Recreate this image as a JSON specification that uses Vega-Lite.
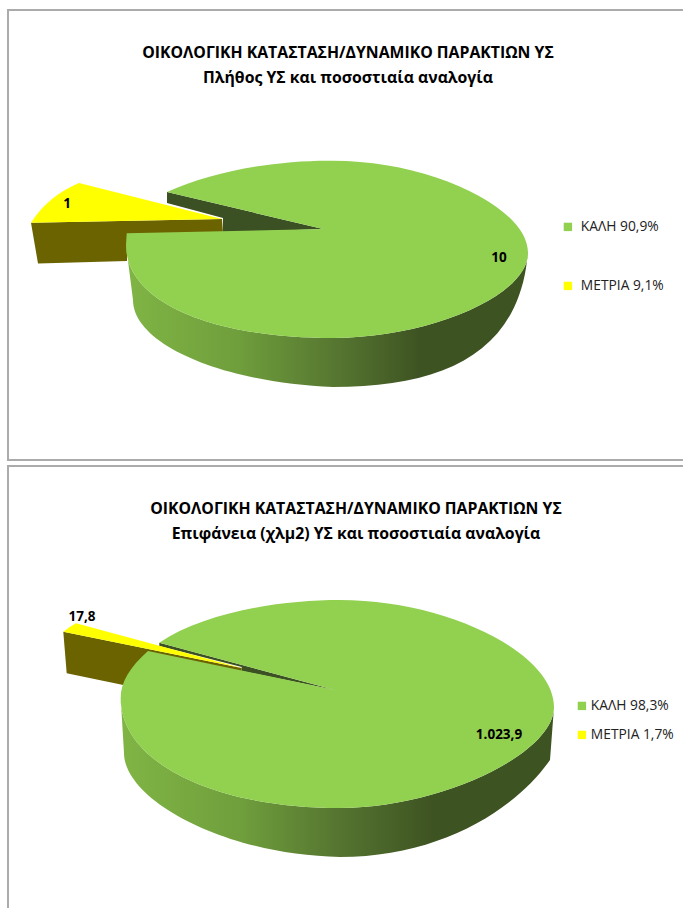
{
"$schema":"https://vega.github.io/schema/vega-lite/v6.json",
"background":"white",
"padding":{"left":7,"top":9,"right":0,"bottom":0},
"spacing":6,
"bounds":"flush",
"config":{"view":{"stroke":"#ABABAB","strokeWidth":2},"style":{"cell":{"stroke":"#ABABAB","strokeWidth":2}},"text":{"font":"Open Sans","fontWeight":"bold","fontSize":13.5,"color":"black"}},
"resolve":{"scale":{"color":"independent","shape":"independent"}},
"datasets":{
"plithos":[{"katastasi":"ΚΑΛΗ","legend":"ΚΑΛΗ 90,9%","value":10,"label":"10"},{"katastasi":"ΜΕΤΡΙΑ","legend":"ΜΕΤΡΙΑ 9,1%","value":1,"label":"1"}],
"epifaneia":[{"katastasi":"ΚΑΛΗ","legend":"ΚΑΛΗ 98,3%","value":1023.9,"label":"1.023,9"},{"katastasi":"ΜΕΤΡΙΑ","legend":"ΜΕΤΡΙΑ 1,7%","value":17.8,"label":"17,8"}]
},
"vconcat":[
{
"width":680,"height":450,
"view":{"stroke":"#ABABAB","strokeWidth":2,"fill":"white"},
"data":{"name":"plithos"},
"title":{"text":["ΟΙΚΟΛΟΓΙΚΗ ΚΑΤΑΣΤΑΣΗ/ΔΥΝΑΜΙΚΟ ΠΑΡΑΚΤΙΩΝ ΥΣ","Πλήθος ΥΣ και  ποσοστιαία αναλογία"],"anchor":"middle","font":"Open Sans","fontSize":15.8,"fontWeight":"bold","color":"black","lineHeight":25,"baseline":"top","offset":0,"dy":77},
"layer":[
{"transform":[{"filter":"datum.katastasi==='ΚΑΛΗ'"}],"mark":{"type":"point","filled":true,"opacity":1,"size":4,"fill":"#3B5023","shape":"M-181,-43L-25,-6L-125,-2.5L-125,-17L-181,-32Z"}},
{"transform":[{"filter":"datum.katastasi==='ΜΕΤΡΙΑ'"}],"mark":{"type":"point","filled":true,"opacity":1,"size":4,"fill":"#6A6300","shape":"M-317,-12.3L-126,-16L-125,-2.5L-221,1L-221,26L-310,28.5Z"}},
{"transform":[{"filter":"datum.katastasi==='ΚΑΛΗ'"}],"mark":{"type":"point","filled":true,"opacity":1,"size":4,"fill":{"gradient":"linear","x1":0,"y1":0,"x2":1,"y2":0,"stops":[{"offset":0,"color":"#80B545"},{"offset":0.28,"color":"#6F9E3C"},{"offset":0.53,"color":"#557530"},{"offset":0.73,"color":"#3E5322"},{"offset":1,"color":"#3E5322"}]},"shape":"M-222,10C-222,66,-139,103,-15,103C82.5,103,180,60.5,180,18L178,33C164,120,92,152,-15,152C-123,148,-215,110,-215,65Z"}},
{"mark":{"type":"point","filled":true,"opacity":1,"size":4},
"encoding":{
"shape":{"field":"katastasi","type":"nominal","legend":null,"scale":{"domain":["ΚΑΛΗ","ΜΕΤΡΙΑ"],"range":["M-25,-6L-221.3,-1.7L-222,10C-222,66,-139,103,-15,103C82.5,103,180,60.5,180,18C180,-28,82,-74.3,-15,-74.3C-68,-75,-133,-65,-181,-43Z","M-126,-16L-269,-52Q-300,-39,-317,-12.3Z"]}},
"color":{"field":"legend","type":"nominal","scale":{"domain":["ΚΑΛΗ 90,9%","ΜΕΤΡΙΑ 9,1%"],"range":["#92D050","#FFFF00"]},
"legend":{"title":null,"orient":"none","legendX":553,"legendY":210,"symbolType":"square","symbolSize":70,"symbolOpacity":1,"symbolStrokeWidth":0,"labelFont":"Open Sans","labelFontSize":13.8,"labelColor":"#222222","rowPadding":44,"labelOffset":6}}
}},
{"transform":[{"filter":"datum.katastasi==='ΚΑΛΗ'"}],"mark":{"type":"text","dx":151,"dy":23,"align":"center","baseline":"middle"},"encoding":{"text":{"field":"label"}}},
{"transform":[{"filter":"datum.katastasi==='ΜΕΤΡΙΑ'"}],"mark":{"type":"text","dx":-281,"dy":-31,"align":"center","baseline":"middle"},"encoding":{"text":{"field":"label"}}}
]
},
{
"width":680,"height":444,
"view":{"stroke":"#ABABAB","strokeWidth":2,"fill":"white"},
"data":{"name":"epifaneia"},
"title":{"text":["ΟΙΚΟΛΟΓΙΚΗ ΚΑΤΑΣΤΑΣΗ/ΔΥΝΑΜΙΚΟ ΠΑΡΑΚΤΙΩΝ ΥΣ","Επιφάνεια (χλμ2) ΥΣ και  ποσοστιαία αναλογία"],"anchor":"middle","font":"Open Sans","fontSize":15.8,"fontWeight":"bold","color":"black","lineHeight":25,"baseline":"top","offset":0,"dy":77,"dx":8},
"layer":[
{"transform":[{"filter":"datum.katastasi==='ΚΑΛΗ'"}],"mark":{"type":"point","filled":true,"opacity":1,"size":4,"fill":"#3B5023","shape":"M-188.7,-45.3L-13,2L-106.3,-17L-106.3,-21L-188.7,-42Z"}},
{"transform":[{"filter":"datum.katastasi==='ΜΕΤΡΙΑ'"}],"mark":{"type":"point","filled":true,"opacity":1,"size":4,"fill":"#6A6300","shape":"M-284.7,-56.3L-106.3,-20L-106.3,-17L-224.7,-3L-281.3,-14.7Z"}},
{"transform":[{"filter":"datum.katastasi==='ΚΑΛΗ'"}],"mark":{"type":"point","filled":true,"opacity":1,"size":4,"fill":{"gradient":"linear","x1":0,"y1":0,"x2":1,"y2":0,"stops":[{"offset":0,"color":"#80B545"},{"offset":0.28,"color":"#6F9E3C"},{"offset":0.5,"color":"#557530"},{"offset":0.72,"color":"#3E5322"},{"offset":1,"color":"#3E5322"}]},"shape":"M-227.3,10C-227.3,74,-135,120,-8,120C92,120,206,66,206,19L202,72C167,122,92,169,-8,169C-123,167,-224,112,-224,65Z"}},
{"mark":{"type":"point","filled":true,"opacity":1,"size":4},
"encoding":{
"shape":{"field":"katastasi","type":"nominal","legend":null,"scale":{"domain":["ΚΑΛΗ","ΜΕΤΡΙΑ"],"range":["M-13,2L-200,-37C-218,-21,-227.3,-6,-227.3,10C-227.3,74,-135,120,-8,120C92,120,206,66,206,19C206,-35,99,-88,-8,-88C-68,-88,-143,-76,-188.7,-45.3Z","M-106.3,-20L-272,-64.7Q-279,-61,-284.7,-56.3Z"]}},
"color":{"field":"legend","type":"nominal","scale":{"domain":["ΚΑΛΗ 98,3%","ΜΕΤΡΙΑ 1,7%"],"range":["#92D050","#FFFF00"]},
"legend":{"title":null,"orient":"none","legendX":567,"legendY":233,"symbolType":"square","symbolSize":70,"symbolOpacity":1,"symbolStrokeWidth":0,"labelFont":"Open Sans","labelFontSize":13.8,"labelColor":"#222222","rowPadding":14,"labelOffset":2}}
}},
{"transform":[{"filter":"datum.katastasi==='ΚΑΛΗ'"}],"mark":{"type":"text","dx":151,"dy":47,"align":"center","baseline":"middle"},"encoding":{"text":{"field":"label"}}},
{"transform":[{"filter":"datum.katastasi==='ΜΕΤΡΙΑ'"}],"mark":{"type":"text","dx":-266,"dy":-71,"align":"center","baseline":"middle"},"encoding":{"text":{"field":"label"}}}
]
}
]
}
